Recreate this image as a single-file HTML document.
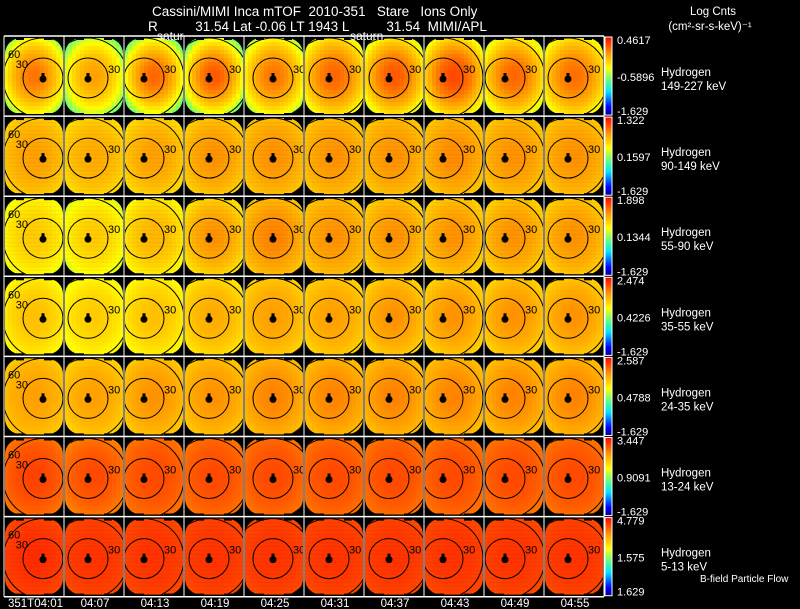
<!DOCTYPE html>
<html><head><meta charset="utf-8">
<style>
body{margin:0;background:#000;}
#c{position:relative;width:800px;height:609px;overflow:hidden;background:#000;font-family:"Liberation Sans",sans-serif;}
svg text{font-family:"Liberation Sans",sans-serif;}
</style></head>
<body>
<div id="c">
<svg id="s" width="800" height="609"></svg>
</div>
<script>
// ---- data ----
const times = ["351T04:01","04:07","04:13","04:19","04:25","04:31","04:37","04:43","04:49","04:55"];
const channels = ["149-227 keV","90-149 keV","55-90 keV","35-55 keV","24-35 keV","13-24 keV","5-13 keV"];
const cbMax = ["0.4617","1.322","1.898","2.474","2.587","3.447","4.779"];
const cbMid = ["-0.5896","0.1597","0.1344","0.4226","0.4788","0.9091","1.575"];
const cbMin = ["-1.629","-1.629","-1.629","-1.629","-1.629","-1.629","1.629"];
// normalized colour level (0=blue .. 1=red) at panel centre
const centerLevel = [
 [0.84,0.78,0.86,0.88,0.84,0.86,0.88,0.90,0.86,0.85],
 [0.78,0.76,0.78,0.80,0.80,0.80,0.80,0.81,0.80,0.80],
 [0.70,0.70,0.74,0.80,0.82,0.80,0.80,0.80,0.80,0.80],
 [0.72,0.70,0.72,0.76,0.78,0.78,0.80,0.80,0.80,0.80],
 [0.78,0.78,0.80,0.80,0.82,0.82,0.82,0.82,0.82,0.82],
 [0.91,0.90,0.90,0.90,0.90,0.90,0.90,0.90,0.90,0.90],
 [0.94,0.93,0.93,0.93,0.93,0.93,0.93,0.93,0.93,0.93]];
// normalized colour level at panel rim
const edgeLevel = [
 [0.50,0.45,0.45,0.45,0.52,0.58,0.56,0.58,0.56,0.58],
 [0.68,0.66,0.66,0.68,0.70,0.70,0.70,0.70,0.70,0.70],
 [0.58,0.56,0.60,0.64,0.70,0.70,0.68,0.68,0.68,0.68],
 [0.60,0.58,0.60,0.64,0.68,0.68,0.68,0.68,0.68,0.68],
 [0.70,0.68,0.70,0.70,0.72,0.72,0.72,0.72,0.72,0.72],
 [0.84,0.82,0.84,0.84,0.84,0.84,0.84,0.84,0.84,0.84],
 [0.90,0.90,0.90,0.90,0.90,0.90,0.90,0.90,0.90,0.90]];

const NS="http://www.w3.org/2000/svg";
const svg=document.getElementById('s');
function mk(tag,attrs,parent){const e=document.createElementNS(NS,tag);for(const k in attrs)e.setAttribute(k,attrs[k]);(parent||svg).appendChild(e);return e;}
function cmap(v){
  const stops=[[0,[0,0,140]],[0.1,[0,0,255]],[0.3,[0,230,255]],[0.45,[100,255,120]],[0.6,[255,255,0]],[0.78,[255,160,0]],[1,[255,0,0]]];
  v=Math.max(0,Math.min(1,v));
  for(let i=1;i<stops.length;i++){if(v<=stops[i][0]){const a=stops[i-1],b=stops[i];const t=(v-a[0])/(b[0]-a[0]);
    return 'rgb('+a[1].map((c,j)=>Math.round(c+(b[1][j]-c)*t)).join(',')+')';}}
  return 'rgb(255,0,0)';
}
const x0=4, cw=60, y0=36, rh=80.1;
const colX = i=>x0+i*cw;
const rowY = j=>y0+j*rh;
const dotDx=[39,24,20,25,29,25,25,19,21,24];
const defs=mk('defs',{});
for(let r=0;r<7;r++){
  for(let c=0;c<10;c++){
    const px=colX(c), py=rowY(r);
    const g=mk('g',{});
    
    
    const cid='clip'+r+'_'+c;
    const cp=mk('clipPath',{id:cid},defs);
    mk('rect',{x:px+1,y:py+2,width:58,height:76,rx:16,ry:16},cp);
    const hg=mk('g',{'clip-path':'url(#'+cid+')'},g);
    const cx=px+30, cy=py+40;
    for(let bx=0;bx<15;bx++)for(let by=0;by<19;by++){
      const X=px+bx*4, Y=py+by*4+2;
      const d=Math.min(1,Math.hypot(X+2-cx,(Y+2-cy)*0.8)/36);
      const v=centerLevel[r][c]+(edgeLevel[r][c]-centerLevel[r][c])*d*d;
      mk('rect',{x:X,y:Y,width:4.2,height:4.2,fill:cmap(v)},hg);
    }
    [[px+16,py],[px+44,py],[px+16,py+76],[px+44,py+76]].forEach(p=>{
      mk('rect',{x:p[0]-4,y:p[1]+1,width:8,height:3,fill:'#000'},g);
    });
    const dx=px+dotDx[c], dy=py+42;
    const ic=mk('g',{'clip-path':'url(#'+cid+')'},g);
    mk('circle',{cx:dx,cy:dy,r:20,fill:'none',stroke:'#000','stroke-width':1},ic);
    mk('circle',{cx:dx,cy:dy,r:40,fill:'none',stroke:'#000','stroke-width':1},ic);
    mk('circle',{cx:dx,cy:dy+1,r:3.5,fill:'#000'},g);
    mk('rect',{x:dx-1.5,y:dy-5,width:3,height:4,fill:'#000'},g);
    const lbl=mk('text',{x:c===0?dx-15:dx+20,y:c===0?dy-10:dy-5,'font-size':11,fill:'#000','text-anchor':c===0?'end':'start'},g);
    lbl.textContent='30';
    if(c===0){const l6=mk('text',{x:px+4,y:py+22,'font-size':11,fill:'#000'},g);l6.textContent='60';}
  }
}
for(let c=0;c<=10;c++){const l=mk('line',{x1:colX(c),y1:y0,x2:colX(c),y2:rowY(7),stroke:'#fff','stroke-width':1});}
for(let r=0;r<=7;r++){const l=mk('line',{x1:x0,y1:rowY(r),x2:colX(10),y2:rowY(r),stroke:'#fff','stroke-width':1.5});}
const gr=mk('linearGradient',{id:'cbg',x1:0,y1:0,x2:0,y2:1},defs);
for(let i=0;i<=10;i++){mk('stop',{offset:i/10,'stop-color':cmap(1-i/10)},gr);}
for(let r=0;r<7;r++){
  const py=rowY(r);
  const cb=mk('rect',{x:605,y:py+1,width:7,height:rh-2,fill:'url(#cbg)',stroke:'#fff','stroke-width':1});
  
  
  const t1=mk('text',{x:617,y:py+8,'font-size':11,fill:'#fff'});t1.textContent=cbMax[r];
  
  const t2=mk('text',{x:617,y:py+45,'font-size':11,fill:'#fff'});t2.textContent=cbMid[r];
  
  const t3=mk('text',{x:617,y:py+rh-1,'font-size':11,fill:'#fff'});t3.textContent=cbMin[r];
  
  const h1=mk('text',{x:661,y:py+40,'font-size':11.5,fill:'#fff'});h1.textContent='Hydrogen';
  
  const h2=mk('text',{x:661,y:py+54,'font-size':11.5,fill:'#fff'});h2.textContent=channels[r];
  
}
times.forEach((t,i)=>{
  const tx=mk('text',{x:i===0?8:colX(i)+31,y:607,'font-size':11.5,fill:'#fff','text-anchor':i===0?'start':'middle'});
  tx.textContent=t;
  
  
});
</script>
<svg width="800" height="609" style="position:absolute;left:0;top:0;pointer-events:none">
<text x="152" y="16" font-size="13.5" fill="#fff" xml:space="preserve">Cassini/MIMI Inca mTOF  2010-351   Stare   Ions Only</text>
<text x="148" y="31" font-size="13.5" fill="#fff" xml:space="preserve">R          31.54 Lat -0.06 LT 1943 L          31.54  MIMI/APL</text>
<text x="157" y="40" font-size="12" fill="#fff">satur</text>
<text x="350" y="40" font-size="12" fill="#fff">saturn</text>
<text x="713" y="15" font-size="11.5" fill="#fff" text-anchor="middle">Log Cnts</text>
<text x="710" y="30" font-size="11.5" fill="#fff" text-anchor="middle">(cm²-sr-s-keV)⁻¹</text>
<text x="700" y="582" font-size="10" fill="#fff">B-field Particle Flow</text>
</svg>
</div>
</body></html>
